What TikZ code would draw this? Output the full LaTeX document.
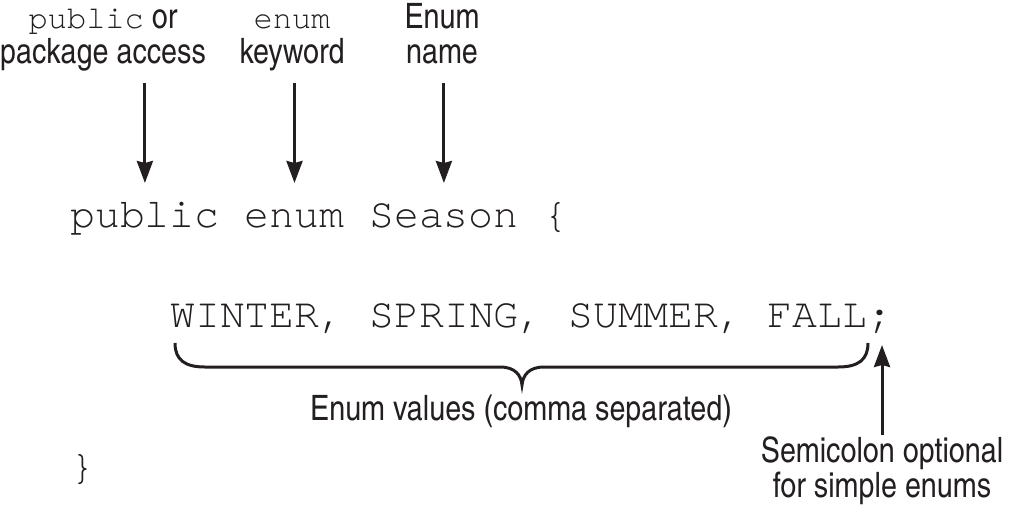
\documentclass[tikz,border=0pt]{standalone}
\usepackage{fontspec}
\setmainfont{Liberation Sans}
\newfontfamily\labfont{texgyreheroscn-regular.otf}
\newfontfamily\codefont{texgyrecursor-regular.otf}
\usetikzlibrary{arrows.meta}
\definecolor{ink}{HTML}{231F20}
\begin{document}
\begin{tikzpicture}[x=1pt,y=-1pt,
  code/.style={font=\codefont\fontsize{41.5}{48}\selectfont, inner sep=0pt, anchor=base west, text=ink},
  lab/.style={font=\labfont\fontsize{35}{35}\selectfont, inner sep=0pt, align=center, anchor=base, text=ink},
  arr/.style={-{Stealth[length=22pt,width=16pt,inset=2pt]}, line width=3pt, draw=ink},
  bracepath/.style={line width=3pt, draw=ink}]
\useasboundingbox (0,0) rectangle (1009,512);

% code
\node[code] (kpub) at (70,227) {public};
\node[code] (kenum) at (244.5,227) {enum};
\node[code] (kname) at (369,227) {Season};
\node[code] (kopen) at (543,227) {\{};
\node[code] (vals) at (170,327) {WINTER, SPRING, SUMMER, FALL};
\node[code] (semi) at (867,327) {;};
\node[code] (kclose) at (70,479) {\}};

% labels (base = baseline of the last line)
\node[lab] (lpub) at (103,63) {{\codefont\fontsize{32}{35}\selectfont public} or\\package access};
\node[lab] (lenum) at (292,63) {{\codefont\fontsize{32}{35}\selectfont enum}\\keyword};
\node[lab] (lname) at (442,63) {Enum\\name};
\node[lab] (lvals) at (521,420) {Enum values (comma separated)};
\node[lab] (lsemi) at (882,497) {Semicolon optional\\for simple enums};

% arrows
\coordinate (atop) at (0,83);
\coordinate (abot) at (0,183);
\draw[arr] (kpub.north |- atop) -- (kpub.north |- abot);
\draw[arr] (kenum.north |- atop) -- (kenum.north |- abot);
\draw[arr] (kname.north |- atop) -- (kname.north |- abot);
\coordinate (stail) at (0,435);
\coordinate (stip) at (0,345);
\draw[arr] (lsemi.north |- stail) -- (lsemi.north |- stip);

% brace under the values
\draw[bracepath] (175,343) .. controls (175,360) and (185,367) .. (205,367)
  -- (500,367) .. controls (515,367) and (521,375) .. (522,385)
  .. controls (523,375) and (529,367) .. (544,367)
  -- (838,367) .. controls (858,367) and (868,360) .. (868,343);
\end{tikzpicture}
\end{document}
